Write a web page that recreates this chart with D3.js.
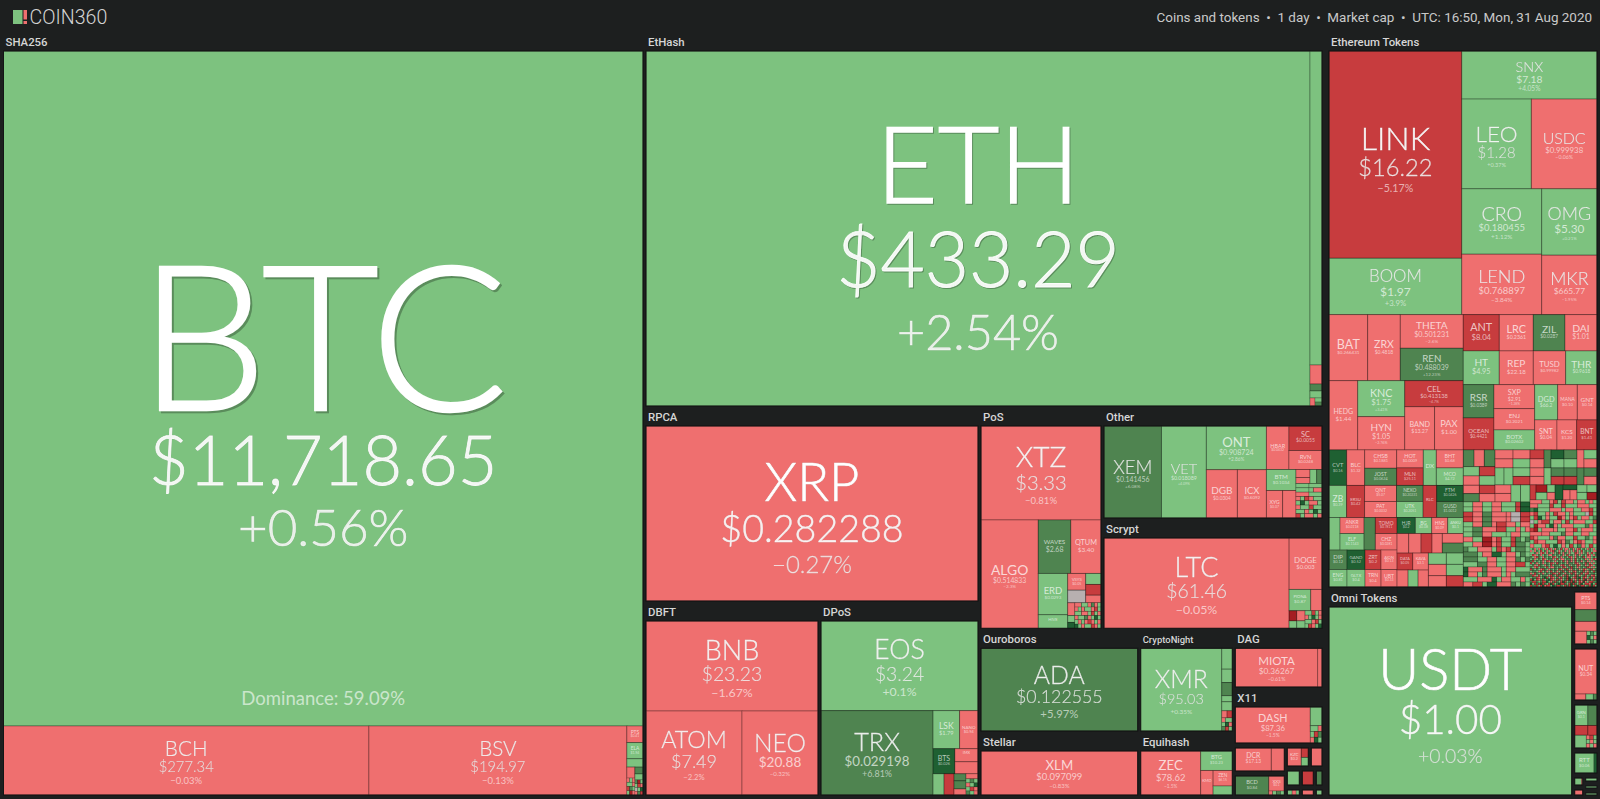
<!DOCTYPE html>
<html>
<head>
<meta charset="utf-8">
<script src="https://cdn.jsdelivr.net/npm/d3@7"></script>
<style>
html,body{margin:0;padding:0;background:#1d1f1f;overflow:hidden}
svg{display:block}
</style>
</head>
<body>
<svg id="chart" width="1600" height="799"></svg>
<script>
// ---------- node builders ----------
const H = (...c) => ({s:'h', c});
const V = (...c) => ({s:'v', c});
const T = (sym, price, chg, value) => ({sym, price, chg, value});
const u = (chg, value) => ({sym:'', price:'', chg, value});
const microChange = {g:2, r:-2, d:7, D:20, R:-6, X:-15, n:0};
// rows of tiny unlabelled coins: one letter per coin, neighbours with the same move grouped
const micro = (value, rows) => {
  const cell = value / (rows.length * rows[0].length);
  return V(...rows.map(row => {
    const runs = [];
    for (const ch of row) {
      const last = runs[runs.length - 1];
      if (last && last.k === ch && last.n < 3) last.n++; else runs.push({k:ch, n:1});
    }
    return H(...runs.map(r => u(microChange[r.k], r.n * cell)));
  }));
};

// ---------- header ----------
const brand = 'COIN360';
const headerItems = ['Coins and tokens', '1 day', 'Market cap', 'UTC: 16:50, Mon, 31 Aug 2020'];
const dominance = 'Dominance: 59.09%';

// ---------- coins per group (value = relative market cap) ----------
const sha256 = V(
  T('BTC','$11,718.65',0.56,431663),
  H(T('BCH','$277.34',-0.03,25220), T('BSV','$194.97',-0.13,17802),
    V(T('PTS','$0.41',-1.2,267), T('ELA','$1.94',2.1,261), u(1.4,134),
      H(V(u(-1.1,88), micro(136,['rgr','ggr','Rdg','gXr'])),
        V(u(7,56), u(3,48), micro(122,['dXg','gRr','ngD','rdR'])))))
);
const ethash = H(
  T('ETH','$433.29',2.54,235720),
  V(u(1.5,3768), u(-2.1,228), u(6.2,84), u(1.3,84),
    H(u(-2.4,40), V(u(1.1,28), u(6.4,28))))
);
const rpca = V(T('XRP','$0.282288',-0.27,58100));
const dbft = V(T('BNB','$23.23',-1.67,15480), H(T('ATOM','$7.49',-2.2,8064), T('NEO','$20.88',-0.32,6384)));
const dpos = V(
  T('EOS','$3.24',0.1,13958),
  H(T('TRX','$0.029198',6.81,9374),
    V(H(T('LSK','$1.79',1.2,1003), T('NANO','$0.94',-1.4,695)),
      H(T('BTS','$0.026',18.4,543), V(T('IMX','$0.22',-1.7,299), u(-1.2,276))),
      H(u(2.2,231), u(-6.1,210), V(u(6.1,84), u(5.6,96), u(-1.4,72)),
        V(u(-1.6,60), micro(192,['gdg','rgD','gRr','dgr'])))))
);
const pos = V(
  T('XTZ','$3.33',-0.81,11280),
  H(T('ALGO','$0.514833',-2.3,6206),
    V(H(T('WAVES','$2.68',7.2,1743), T('QTUM','$3.40',-1.3,1615)),
      H(V(T('ERD','$0.0293',1.5,1217), T('HIVE','$0.29',2.3,400)),
        V(H(V(T('VSYS','$0.05',-1.1,301), u(0,227)),
            V(u(1.2,168), u(-5.4,164), u(-1.9,116))),
          H(V(u(-2.2,91), u(1.6,49), u(18,42)),
            micro(668,['rrggrdrg','rgrggrRg','ggrrgRgr','rggdrgDg','grgrRrgr','DgrggRrg'])))))
  )
);
const otherBlock = V(
  H(V(u(-1.9,112), u(-2.3,84)), u(2.2,94), u(7.1,74)),
  micro(897,['gggggg','ggggrr','rrrggg','rgRrgg','gDgrrg','rggRgg','ggrgDg','Rgrrgr'])
);
const other = H(
  T('XEM','$0.141456',6.08,5281), T('VET','$0.018089',4.09,4122),
  V(T('ONT','$0.908724',2.86,2622), H(T('DGB','$0.0304',-2.15,1497), T('ICX','$0.6092',-1.72,1401))),
  V(H(T('HBAR','$0.0432',-1.4,979), V(T('SC','$0.0055',-4.6,809), T('RVN','$0.0248',-1.9,627))),
    H(V(T('BTM','$0.1034',1.3,620), H(T('XYG','$0.07',-1.2,446), u(-1.8,366))), otherBlock))
);
const scrypt = H(
  T('LTC','$61.46',-0.05,16520),
  V(T('DOGE','$0.003',-0.91,1673),
    H(T('PIONA','$0.87',2.4,456), u(-1.6,237)),
    H(V(u(-14,77), u(2,56)), V(u(-1.6,83), u(2.1,61)),
      micro(294,['ggRgr','rgDgr','ggrRg','gRrgD'])))
);
const ouroboros = V(T('ADA','$0.122555',5.97,12792));
const stellar = V(T('XLM','$0.097099',-0.83,6864));
const cryptonight = H(
  T('XMR','$95.03',0.35,6699),
  V(u(1.2,219), u(1.4,141), u(6.3,138), u(1.1,64), u(1.6,95),
    H(u(-2,37), u(-5,37)),
    micro(138,['rgg','gDr','dRg']))
);
const equihash = H(
  T('ZEC','$78.62',-1.5,2640),
  V(T('BTG','$10.23',1.2,616),
    H(T('KMD','$0.63',-1.1,304), V(T('ZEN','$6.15',-1.4,298), u(2.1,173))))
);
const dag = H(T('MIOTA','$0.36267',-0.61,3193), u(-1.1,163));
const x11 = H(T('DASH','$87.36',-1.5,2700), V(u(1.8,219), micro(203,['ggr','gRd','rDg'])));
const dcr = H(T('DCR','$17.13',-1.2,828), u(-1.7,299));
const bcd = H(T('BCD','$0.84',5.4,637), V(T('XXS','$0.1',-1.3,233), micro(62,['rgdg'])));
const kzc = H(T('KZC','$0.2',-1.3,294), V(u(-5.5,77), u(2.1,70)));
const tinyRed = V(u(-1.6,315));
const tinyGreen = V(u(2.4,285));
const tinyDarkRed = V(u(-6.2,266));
const tinyDeep = V(u(7.2,165));
const tinyMix = H(u(2.3,60), u(-1.4,50), u(2.2,40));
const tinyPink = V(u(-1.4,140));
const tinyLime = V(u(2.6,87));

const tokensTop = H(
  V(T('LINK','$16.22',-5.17,27509), T('BOOM','$1.97',3.9,7484)),
  V(T('SNX','$7.18',4.05,6494),
    H(T('LEO','$1.28',0.37,6243), T('USDC','$0.999938',-0.06,5893)),
    H(V(T('CRO','$0.180455',1.12,5224), T('LEND','$0.768897',-3.84,4832)),
      V(T('OMG','$5.30',0.21,3666), T('MKR','$665.77',-1.95,3285))))
);
const tokensMidLeft = V(
  H(T('BAT','$0.266431',-1.55,2554), T('ZRX','$0.4818',-1.78,2152),
    V(T('THETA','$0.501231',-2.6,2117), T('REN','$0.488039',12.23,2041))),
  H(T('HEDG','$1.44',-1.76,1989),
    V(T('KNC','$1.75',3.41,1692), T('HYN','$1.05',-2.76,1565)),
    V(T('CEL','$0.413138',-4.7,1524), H(T('BAND','$13.27',-1.3,1286), T('PAX','$1.00',-0.12,1238))))
);
const tokensMidRight = V(
  H(T('ANT','$8.04',-6.1,1307), T('LRC','$0.2361',-1.5,1234), T('ZIL','$0.0287',6.4,1151), T('DAI','$1.01',-0.41,1162)),
  H(T('HT','$4.95',2.27,1213), T('REP','$22.18',-1.46,1146), T('TUSD','$0.99982',-0.17,1092), T('THR','$0.9618',2.1,1055)),
  H(V(T('RSR','$0.0389',5.6,1022), T('OCEAN','$0.4421',-5.5,982)),
    V(T('SXP','$2.91',-1.28,977), T('ENJ','$0.2021',-1.5,867), T('BOTX','$0.02602',2.4,814)),
    V(H(T('DGD','$66.2',1.3,812), T('MANA','$0.10',-1.2,692), T('GNT','$0.14',-1.6,695)),
      H(T('SNT','$0.04',-1.4,669), T('KCS','$1.20',-1.1,591), T('BNT','$1.41',-5.2,609))))
);
const tokensLowLeft = V(
  H(T('CVT','$0.16',22,628), T('BLC','$1.32',-1.5,639),
    V(T('CHSB','$0.1881',-1.4,586), T('JOST','$0.0624',5.9,550)),
    V(T('HOT','$0.0009',-1.2,479), T('MLN','$25.11',-5.1,466)),
    T('DX','$0.35',2.2,462),
    V(T('BHT','$0.68',-1.1,486), T('MCO','$4.72',2.7,473))),
  H(T('ZB','$0.39',2.8,566), T('ERSU','$0.42',-6.1,576),
    V(T('QNT','$5.07',-1.4,512), T('PAT','$0.0032',-1.8,512)),
    V(T('NEXO','$0.20231',5.3,426), T('UTK','$0.2051',2.5,426)),
    T('RLC','$1.03',-5.4,438),
    V(T('FTM','$0.0426',16.2,427), T('GUSD','$1.0012',5.2,427))),
  H(V(H(u(2.6,358),
        V(T('ANKR','$0.0118',-1.4,384), T('ELF','$0.1143',2.3,396)),
        u(6.3,367),
        V(T('TOMO','$0.7811',-5.3,347), T('CHZ','$0.0281',-1.7,358))),
      H(V(T('DIP','$0.12',5.5,351), T('ENG','$0.81',2.4,315)),
        V(T('GAND','$0.52',16.5,351), T('GLTX','$0.4',2.6,315)),
        V(T('ZRT','$0.2',-5.6,312), T('TRN','$0.4',-1.6,280)),
        V(T('AION','$0.13',-1.9,312), T('UBT','$0.33',-2.1,280)))),
    V(H(T('HJR','$0.2',18,293), T('BG','$0.08',2.9,262), T('HNS','$0.09',-1.3,256), T('ANKU','$0.1',2.1,250)),
      H(u(-1.8,228), u(-1.3,240), u(-5.2,215), u(-1.6,201), V(u(-1.5,200), u(6.1,210))),
      H(V(H(T('DATA','$0.05',-4.9,267), T('KAVA','$3.1',-1.6,265)),
          H(u(-1.7,187), u(2.2,170), u(-1.3,175))),
        V(H(u(2.6,203), u(2.2,192)), H(u(-1.9,203), u(2.4,192)), H(u(-1.4,203), u(-5.8,192))))))
);
const denseWest = V(
  H(V(H(u(5.6,179), u(-1.8,172), u(6.4,179)),
      H(V(u(2.7,149), u(-2.1,149)), V(u(-5.2,146), u(2.9,146))),
      H(V(u(-1.6,134), u(6.1,134)), V(u(-5.4,131), u(-1.9,131)))),
    V(H(V(u(-1.7,162), u(-1.8,162)), V(u(-1.2,153), u(2.5,153))),
      H(u(2.3,153), u(2.1,153), V(u(3,145), u(-5.8,144))),
      H(V(u(-1.4,136), u(-2.2,136)), u(2.8,162), u(2.4,162)))),
  micro(5670,[
    'ggrrggrrgggRDD','ggrrggrrgggRDD','RRrrddrrrrnnRR','RRrrddrrrrnnRR',
    'ggrrddrRRrrgrr','ggddrrrRRggrgr','ggddrrggggrrgg','rrggXXrRggRdgd',
    'ggrrXXrRggRddg','dggrrrgRrRgddg','dddgrrDDgrrgdg','dddggrrggrrdgd',
    'gggddrrggrrRRg','Drrrdrrrgrrggg','Drrgdrrrgrgddd','gggrrrDgrrggrg','rrRRgDDrrrdgdg'])
);
const denseEast = V(
  H(V(u(-5.1,126), u(-1.6,126)), u(6.3,126), V(u(17,117), u(2.4,117)), V(u(6.2,117), u(2.3,117)),
    u(-1.5,126), V(u(2.6,117), u(-1.4,117))),
  H(V(u(-1.7,119), u(-1.3,119)), u(2.2,119), V(u(6.5,110), u(-5.2,110)), V(u(5.7,110), u(-5.6,110)),
    u(6.1,119), V(u(6.6,110), u(-2.1,110))),
  H(u(-5.5,90), V(u(-14,83), u(2.1,83)), V(u(2.4,60), u(-1.6,60)), u(17,120),
    V(u(19,70), H(u(-1.7,70), u(-1.2,70))), V(u(2.6,75), u(2.2,75)), V(u(3,75), u(-13,75))),
  micro(3216,[
    'rrrggrRgRrrgrrgrg','rrgggRggRgggrrrgg','dDgggrrrgrrggrrRg','rRggrgRrrgrgggnRg',
    'gRDgrggXrgrRgrrgd','ngrRRgrrgRgrrrggR','gXrrgDrgrrrgggdrg','RXgrrrrggrrRgrrrg',
    'rrrrrgggdrrggrrgg','RrgggrdrrggRggdgr','gRrrgggRrdgrRrggr','rggrRgDgrgRgdrgRg']),
  micro(2613,[
    'gdrgrdgrgRrgrdgRgrrgdrgrRgdgrdgrg','rgrdgRgdrgrRdgrgdrgrgrdrgRgdgdgrr',
    'ggdrgrRgrdgrgdRgrdgrggRrgrgdrgRgd','gRrgdrgdgrrdgdgdrgRgdgrdrgdgRrgrd',
    'dgrRdgrdgdgRrgdrgdgRrgrdgdRgrrgdg','gdrgdgRrgddrgRgrrgddrgRgdgdrgrgRr',
    'dRgdgdrgRrdgrgdgRgrdrgRgdrgdrgrgd','RgdrgdrgdgRrgRdgdgrddgRrgdgRdrgrg',
    'gdrgRdgrdgRgddgrRgdrgdgRrgdrgRrgd','dgrRgddgRgrrdgdgRrgdRdgrgdgdRrgrg',
    'RdgdgrRdgrdgdgRrgdRgrdgdrgRrgdRgd','gddgrRgdrgRgdrgdRgdrgRrdgdRgrdgRd',
    'rgRdgdrgdgdRrgRdgrdgRdrgdRgrRgddg','dRrgRgddgrRdgRdgrdRgdgRdrgdRgdrRg',
    'gddRrgdDRgRrgdrRgdRDgrRdDgRrgRdrd','RDgRrdRgdDRrgRdrgdRDRgrdRgRDrdgRd',
    'dRRdgdRRDgrdRdgRDRgdRDRgRrDrgRRdd','DgRdRDRdgRDRgdDRRdgRDRdgRDgRRrDgR',
    'RddRgRDrRRgDdRRdgRdRDgRDdRRgdRDRg'])
);
const tokensLow = H(tokensLowLeft, H(denseWest, denseEast));
const ethereumTokens = V(tokensTop, H(tokensMidLeft, tokensMidRight), tokensLow);

const omni = V(T('USDT','$1.00',0.03,45300));
const stripA = V(T('PTS','$0.14',-1.3,396), u(6.2,264), u(-1.8,220),
  H(u(-1.7,156), micro(130,['gdg','Dgr','gdg'])));
const stripB = V(T('NUT','$0.34',-1.5,990), H(u(-1.4,66), u(2.1,44), u(6.3,22)));
const stripC = V(H(T('GRN','$0.1',2.2,273), u(6.4,189)),
  H(u(-5.2,130), u(-5.7,90)), H(u(2.4,150), micro(138,['rRg','grg','rgr'])));
const stripD = H(T('RTT','$0.06',2.7,418), u(17,66));
const stripE1 = H(u(2.5,90), u(-1.8,16));
const stripE2 = V(u(-1.8,78));
const stripE3 = V(u(2.4,66));
const stripE4 = V(u(2.5,60));
const stripE5 = V(u(2.1,60));

// ---------- board of groups ----------
const G = (label, value, tree) => ({label, value, tree});
const board = H(
  G('SHA256', 490870, sha256),
  V(G('EtHash', 254625, ethash),
    H(V(G('RPCA', 65325, rpca),
        H(G('DBFT', 33950, dbft), G('DPoS', 31040, dpos))),
      V(H(G('PoS', 27343, pos),
          V(G('Other', 24752, other), G('Scrypt', 24376, scrypt))),
        H(V(G('Ouroboros', 16401, ouroboros), G('Stellar', 10221, stellar)),
          V(G('CryptoNight', 9715, cryptonight), G('Equihash', 6054, equihash)),
          V(G('DAG', 5265, dag), G('X11', 5023, x11),
            H(V(G('', 1456, dcr), G('', 1248, bcd)),
              V(H(G('', 552, kzc), G('', 315, tinyRed)),
                H(G('', 285, tinyGreen), G('', 266, tinyDarkRed), G('', 165, tinyDeep)),
                H(G('', 150, tinyMix), G('', 140, tinyPink), G('', 87, tinyLime))))))))),
  G(null, 3056, null),
  V(G('Ethereum Tokens', 150676, ethereumTokens),
    H(G('Omni Tokens', 51106, omni),
      V(G('', 1442, stripA), G('', 1417, stripB), G('', 1214, stripC), G('', 633, stripD),
        H(V(G('', 132, stripE1), G('', 110, stripE2)),
          V(G('', 114, stripE3), G('', 100, stripE4), G('', 100, stripE5))))))
);

// ---------- drawing ----------
const pctFmt = d3.format('+');
const colorOf = d3.scaleThreshold()
  .domain([-12, -4, 0, 1e-9, 5, 15])
  .range(['#a51d22', '#c73c3e', '#ef6f6f', '#b7b0b0', '#7dc27f', '#4f8450', '#1f6032']);
const textAlpha = d3.scaleLinear().domain([8, 40]).range([0.68, 1]).clamp(true);
const tile = (node, x0, y0, x1, y1) =>
  (node.data.s === 'h' ? d3.treemapDice : d3.treemapSlice)(node, x0, y0, x1, y1);
const layout = (tree, w, h) =>
  d3.treemap().size([w, h]).round(false).tile(tile)(
    d3.hierarchy(tree, d => d.c).sum(d => d.c ? 0 : d.value));

const svg = d3.select('#chart');
const W = 1600, HT = 799;
svg.append('rect').attr('width', W).attr('height', HT).attr('fill', '#1d1f1f');

// header
const head = svg.append('g');
head.append('rect').attr('x', 13).attr('y', 10).attr('width', 9.5).attr('height', 14).attr('fill', '#7dc27f');
head.append('rect').attr('x', 23.5).attr('y', 10).attr('width', 3.5).attr('height', 9.5).attr('fill', '#ef6f6f');
head.append('rect').attr('x', 23.5).attr('y', 21).attr('width', 3.5).attr('height', 3).attr('fill', '#ef6f6f');
head.append('text').attr('x', 29.5).attr('y', 24).text(brand)
  .attr('font-family', 'Roboto').attr('font-weight', 300).attr('font-size', 19.6).attr('fill', '#d4d4d4');
head.append('text').attr('x', 1592).attr('y', 21.5).attr('text-anchor', 'end')
  .text(headerItems.join('\u00a0\u00a0\u2022\u00a0\u00a0'))
  .attr('font-family', 'Roboto').attr('font-size', 13.45).attr('fill', '#c9c9c9');

// groups
const boardRoot = layout(board, 1596.5, 764);
const boardX = 3.5, boardY = 34, gap = 3;
const FONT = 'Lato, sans-serif';

boardRoot.leaves().forEach(cell => {
  const g = cell.data;
  if (!g.tree) return;
  const header = g.label ? 17 : 2;
  const x = boardX + cell.x0, y = boardY + cell.y0 + header;
  const w = cell.x1 - cell.x0 - gap, h = cell.y1 - cell.y0 - header - gap;
  if (g.label) {
    const size = Math.min(11.4, w / (g.label.length * 0.88));
    svg.append('text').attr('x', x + 2).attr('y', y - 5).text(g.label)
      .attr('font-family', 'Roboto').attr('font-weight', 500).attr('font-size', size).attr('fill', '#d6d6d6');
  }
  const gr = svg.append('g').attr('transform', `translate(${x},${y})`);
  const leaves = layout(g.tree, w, h).leaves();
  const sel = gr.selectAll('g').data(leaves).enter().append('g');
  sel.append('rect')
    .attr('x', d => d.x0).attr('y', d => d.y0)
    .attr('width', d => d.x1 - d.x0).attr('height', d => d.y1 - d.y0)
    .attr('fill', d => colorOf(d.data.chg))
    .attr('stroke', 'rgba(0,0,0,0.28)')
    .attr('stroke-width', d => Math.min(1, Math.min(d.x1 - d.x0, d.y1 - d.y0) / 6));
  sel.filter(d => d.data.sym).each(function (d) {
    const tw = d.x1 - d.x0, th = d.y1 - d.y0;
    const sym = d.data.sym, price = d.data.price;
    const pct = pctFmt(d.data.chg) + '%';
    const fs1 = Math.min(0.3 * th, 0.97 * tw / sym.length);
    const fs2 = Math.min(0.215 * th, 1.07 * tw / price.length);
    const fs3 = Math.min(0.137 * th, 0.08 * tw);
    const total = 0.72 * (fs1 + fs2 + fs3) + 0.69 * fs2;
    const top = (d.y0 + d.y1) / 2 + 0.022 * th - total / 2;
    const cx = (d.x0 + d.x1) / 2;
    const b1 = top + 0.72 * fs1, b2 = b1 + 1.1 * fs2, b3 = b2 + 0.36 * fs2 + 0.72 * fs3;
    const node = d3.select(this);
    [[sym, b1, fs1, 1], [price, b2, fs2, 0.92], [pct, b3, fs3, 0.85]].forEach(([txt, by, fs, a]) => {
      if (fs < 3.2) return;
      const big = fs >= 14;
      const t = node.append('text').attr('x', cx).attr('y', by).text(txt)
        .attr('text-anchor', 'middle').attr('font-family', FONT).attr('font-weight', big ? 300 : 400)
        .attr('font-size', fs).attr('fill', '#fff').attr('fill-opacity', textAlpha(fs) * a);
      if (big) {
        t.attr('stroke', '#fff').attr('stroke-opacity', textAlpha(fs) * a).attr('stroke-width', fs * 0.012)
          .style('filter', `drop-shadow(${fs * 0.014}px ${fs * 0.014}px 0 rgba(0,0,0,0.28))`);
      }
    });
  });
  gr.append('rect').attr('x', 0).attr('y', 0).attr('width', w).attr('height', h)
    .attr('fill', 'none').attr('stroke', '#141515').attr('stroke-width', 1);
  if (g.label === 'SHA256') {
    const btc = leaves[0];
    gr.append('text').attr('x', (btc.x0 + btc.x1) / 2).attr('y', btc.y1 - 21).text(dominance)
      .attr('text-anchor', 'middle').attr('font-family', FONT).attr('font-weight', 400)
      .attr('font-size', 18.5).attr('fill', '#fff').attr('fill-opacity', 0.6);
  }
});
</script>
</body>
</html>
